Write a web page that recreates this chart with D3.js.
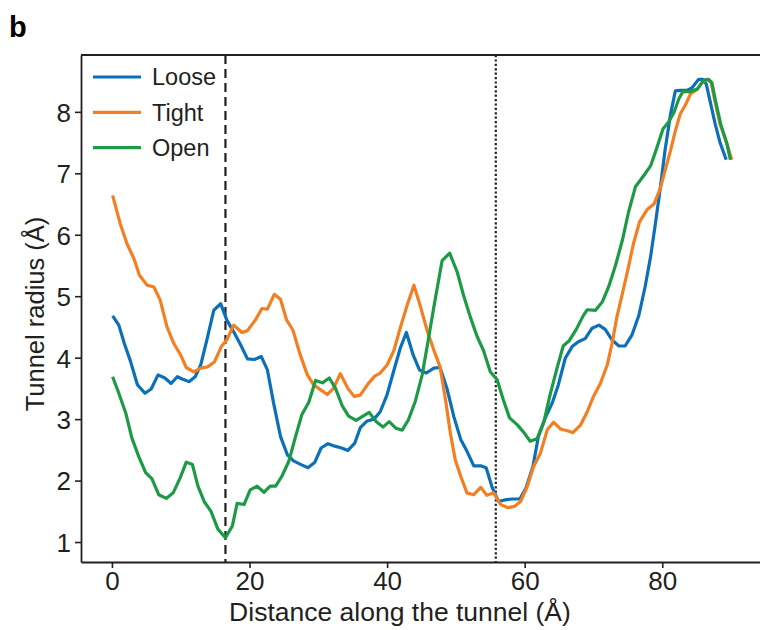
<!DOCTYPE html>
<html>
<head>
<meta charset="utf-8">
<script src="https://cdn.jsdelivr.net/npm/d3@7"></script>
<style>
  body { margin: 0; background: #fff; overflow: hidden; }
  svg { display: block; font-family: "Liberation Sans", Arial, Helvetica, sans-serif; }
</style>
</head>
<body>
<div id="chart"></div>
<script>
// tunnel profiles (distance in Å, radius in Å)
let looseDist = [0.1,1.0,1.8,2.7,3.7,4.8,5.7,6.7,7.7,8.6,9.5,10.3,11.2,12.1,12.9,13.8,14.8,15.8,16.7,17.7,18.7,19.7,20.7,21.7,22.6,23.5,24.5,25.5,26.4,27.5,28.5,29.5,30.4,31.4,32.4,33.4,34.3,35.3,36.1,37.1,38.1,39.0,40.0,41.0,41.9,42.8,43.8,44.7,45.7,46.8,47.7,48.7,49.7,50.7,51.6,52.6,53.6,54.4,55.3,56.2,57.3,58.3,59.3,60.2,61.2,62.0,63.0,64.0,64.9,65.9,66.9,67.8,68.8,69.8,70.8,71.7,72.7,73.7,74.6,75.6,76.6,77.5,78.3,79.0,79.7,80.4,81.2,81.9,82.6,83.6,84.3,85.3,85.9,86.4,87.0,87.7,88.4,89.3];
let looseRad = [4.68,4.53,4.23,3.94,3.56,3.42,3.49,3.72,3.67,3.58,3.69,3.65,3.61,3.69,3.88,4.29,4.77,4.88,4.61,4.42,4.21,3.98,3.97,4.02,3.80,3.26,2.72,2.42,2.32,2.26,2.21,2.30,2.53,2.60,2.56,2.53,2.49,2.61,2.86,2.97,3.00,3.12,3.40,3.80,4.15,4.41,4.04,3.80,3.75,3.83,3.84,3.50,3.04,2.67,2.48,2.24,2.24,2.21,1.88,1.66,1.69,1.70,1.70,1.88,2.23,2.72,3.02,3.26,3.56,3.99,4.18,4.26,4.31,4.48,4.53,4.46,4.29,4.19,4.19,4.37,4.69,5.15,5.64,6.18,6.75,7.37,7.96,8.34,8.35,8.35,8.39,8.53,8.53,8.45,8.15,7.80,7.50,7.22];

let tightDist = [0.1,1.2,2.2,3.2,4.0,5.1,6.1,7.0,8.0,9.0,10.0,10.8,11.9,12.9,13.9,14.9,15.9,16.7,17.7,18.9,19.7,20.9,21.8,22.6,23.6,24.5,25.4,26.3,27.3,28.4,29.3,30.3,31.3,32.2,33.2,34.3,35.2,36.1,37.2,38.2,39.0,40.0,41.0,41.9,42.9,43.9,44.8,45.8,46.8,47.7,48.5,49.2,49.9,50.7,51.6,52.6,53.6,54.5,55.5,56.5,57.5,58.5,59.4,60.3,61.3,62.3,63.3,64.2,65.2,66.2,67.0,68.1,69.1,70.0,71.0,72.0,72.7,73.4,74.2,75.1,75.8,76.7,77.8,78.8,79.7,80.4,81.2,81.9,82.6,83.4,84.1,85.1,85.8,86.4,87.1,87.7,88.4,89.4,90.1];
let tightRad = [6.64,6.18,5.85,5.61,5.34,5.18,5.15,4.94,4.50,4.23,4.04,3.84,3.77,3.83,3.85,3.93,4.18,4.29,4.53,4.41,4.44,4.62,4.80,4.79,5.03,4.95,4.61,4.45,4.07,3.72,3.56,3.48,3.40,3.50,3.74,3.50,3.37,3.39,3.57,3.70,3.75,3.88,4.12,4.48,4.85,5.18,4.85,4.45,4.12,3.85,3.31,2.77,2.34,2.07,1.80,1.77,1.89,1.76,1.80,1.61,1.56,1.58,1.66,1.88,2.23,2.45,2.83,2.95,2.84,2.81,2.78,2.90,3.12,3.37,3.58,3.88,4.23,4.66,5.04,5.48,5.85,6.21,6.41,6.50,6.75,7.04,7.37,7.69,7.96,8.12,8.29,8.37,8.48,8.53,8.48,8.15,7.80,7.48,7.22];

let openDist = [0.1,1.0,2.0,2.9,3.9,4.9,5.8,6.8,7.9,8.9,9.9,10.8,11.7,12.5,13.4,14.4,15.4,16.5,17.5,18.2,19.2,20.1,21.1,22.1,23.0,23.8,24.7,25.7,26.7,27.6,28.6,29.6,30.6,31.6,32.5,33.5,34.4,35.5,36.5,37.4,38.4,39.4,40.3,41.3,42.2,43.1,44.1,45.1,46.0,46.8,48.0,49.1,50.2,51.1,52.1,53.1,54.0,55.0,56.0,56.9,57.8,58.9,59.9,60.8,61.8,62.8,63.7,64.7,65.6,66.5,67.5,68.5,69.1,70.3,71.3,72.2,73.2,74.2,75.1,76.1,77.3,78.3,79.2,80.1,80.9,81.7,82.4,83.0,84.1,85.1,86.0,86.7,87.2,87.8,88.5,89.4,89.9];
let openRad = [3.69,3.42,3.10,2.69,2.39,2.13,2.03,1.77,1.71,1.80,2.04,2.30,2.26,1.91,1.66,1.50,1.21,1.07,1.26,1.63,1.61,1.85,1.91,1.81,1.91,1.91,2.07,2.31,2.72,3.07,3.27,3.63,3.59,3.67,3.50,3.21,3.05,2.98,3.05,3.11,2.96,2.87,2.96,2.85,2.82,2.99,3.29,3.72,4.30,4.83,5.58,5.70,5.39,5.02,4.66,4.34,4.12,3.77,3.64,3.31,3.02,2.91,2.78,2.64,2.68,2.96,3.40,3.83,4.19,4.28,4.46,4.68,4.78,4.77,4.91,5.15,5.50,5.91,6.37,6.78,6.96,7.12,7.41,7.72,7.83,7.99,8.21,8.33,8.33,8.37,8.51,8.53,8.48,8.15,7.80,7.48,7.22];

let seriesNames = ["Loose", "Tight", "Open"];
let seriesColors = ["#0b70b9", "#f47f22", "#1d9a45"];
let xTicks = [0, 20, 40, 60, 80];
let yTicks = [1, 2, 3, 4, 5, 6, 7, 8];
let xDomain = [-4.5, 94.5];
let yDomain = [0.675, 8.925];
let markerDist = [16.5, 55.8]; // dashed, dotted

let width = 760;
let height = 630;
let margin = { left: 81, right: -2, top: 55, bottom: 68 };
let ink = "#231f20";

let svg = d3.select("#chart").append("svg")
  .attr("width", width)
  .attr("height", height);

let x = d3.scaleLinear().domain(xDomain).range([margin.left, width - margin.right]);
let y = d3.scaleLinear().domain(yDomain).range([height - margin.bottom, margin.top]);

let series = [
  { name: seriesNames[0], color: seriesColors[0], pts: d3.zip(looseDist, looseRad) },
  { name: seriesNames[1], color: seriesColors[1], pts: d3.zip(tightDist, tightRad) },
  { name: seriesNames[2], color: seriesColors[2], pts: d3.zip(openDist, openRad) }
];

// vertical markers
svg.append("line")
  .attr("x1", x(markerDist[0])).attr("x2", x(markerDist[0]))
  .attr("y1", y(yDomain[1])).attr("y2", y(yDomain[0]))
  .attr("stroke", ink).attr("stroke-width", 2.2)
  .attr("stroke-dasharray", "9,5");
svg.append("line")
  .attr("x1", x(markerDist[1])).attr("x2", x(markerDist[1]))
  .attr("y1", y(yDomain[1])).attr("y2", y(yDomain[0]))
  .attr("stroke", ink).attr("stroke-width", 2.2)
  .attr("stroke-dasharray", "2.2,2.2");

let line = d3.line()
  .x(d => x(d[0]))
  .y(d => y(d[1]));

svg.selectAll(".series")
  .data(series)
  .enter()
  .append("path")
  .attr("class", "series")
  .attr("d", d => line(d.pts))
  .attr("fill", "none")
  .attr("stroke", d => d.color)
  .attr("stroke-width", 3.2)
  .attr("stroke-linejoin", "round");

// axes
let xAxis = svg.append("g")
  .attr("transform", "translate(0," + y(yDomain[0]) + ")")
  .call(d3.axisBottom(x).tickValues(xTicks).tickSize(6).tickSizeOuter(0).tickPadding(4));
let yAxis = svg.append("g")
  .attr("transform", "translate(" + x(xDomain[0]) + ",0)")
  .call(d3.axisLeft(y).tickValues(yTicks).tickSize(6).tickSizeOuter(0).tickPadding(4));

[xAxis, yAxis].forEach(g => {
  g.select(".domain").attr("stroke", ink).attr("stroke-width", 1.8);
  g.selectAll(".tick line").attr("stroke", ink).attr("stroke-width", 1.6);
  g.selectAll(".tick text")
    .attr("fill", ink)
    .style("font-size", "26px")
    .style("font-family", "'Liberation Sans', Arial, sans-serif");
});
yAxis.selectAll(".tick text").attr("dy", "0.36em");

// top spine (the right one falls off the picture)
svg.append("line")
  .attr("x1", x(xDomain[0])).attr("x2", x(xDomain[1]))
  .attr("y1", y(yDomain[1])).attr("y2", y(yDomain[1]))
  .attr("stroke", ink).attr("stroke-width", 1.8);

// axis labels
svg.append("text")
  .attr("x", 400)
  .attr("y", 621)
  .attr("text-anchor", "middle")
  .attr("fill", ink)
  .style("font-size", "26.5px")
  .text("Distance along the tunnel (Å)");

svg.append("text")
  .attr("transform", "translate(44,314) rotate(-90)")
  .attr("text-anchor", "middle")
  .attr("fill", ink)
  .style("font-size", "25.5px")
  .text("Tunnel radius (Å)");

// panel letter
svg.append("text")
  .attr("x", 9).attr("y", 37)
  .attr("fill", "#000")
  .style("font-size", "29px")
  .style("font-weight", "bold")
  .text("b");

// legend
let legend = svg.append("g").attr("transform", "translate(93,77)");
series.forEach((s, i) => {
  legend.append("line")
    .attr("x1", 0).attr("x2", 48)
    .attr("y1", i * 35.3).attr("y2", i * 35.3)
    .attr("stroke", s.color).attr("stroke-width", 3.2);
  legend.append("text")
    .attr("x", 59).attr("y", i * 35.3)
    .attr("dy", "0.36em")
    .attr("fill", ink)
    .style("font-size", "23.5px")
    .text(s.name);
});
</script>
</body>
</html>
